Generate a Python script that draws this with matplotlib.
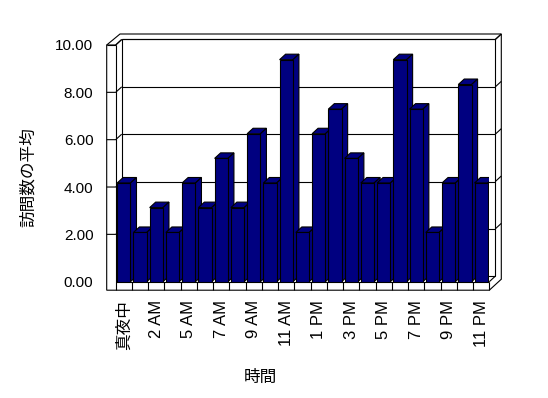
import matplotlib
matplotlib.use('Agg')
import matplotlib.pyplot as plt
from matplotlib.patches import Polygon

plt.rcParams['font.family'] = ['Liberation Sans', 'Noto Sans CJK JP']

# data
hours = ['真夜中', '1 AM', '2 AM', '3 AM', '5 AM', '6 AM', '7 AM', '8 AM',
         '9 AM', '10 AM', '11 AM', '正午', '1 PM', '2 PM', '3 PM', '4 PM',
         '5 PM', '6 PM', '7 PM', '8 PM', '9 PM', '10 PM', '11 PM']
visits = [4.17, 2.08, 3.13, 2.08, 4.17, 3.13, 5.21, 3.13, 6.25, 4.17, 9.38,
          2.08, 6.25, 7.29, 5.21, 4.17, 4.17, 9.38, 7.29, 2.08, 4.17, 8.33, 4.17]
y_ticks = [0, 2, 4, 6, 8, 10]
y_labels = ['0.00', '2.00', '4.00', '6.00', '8.00', '10.00']

NAVY = '#000080'
LW = 0.8

# figure geometry (pixels)
W, H = 548, 398
left_px, right_px = 115.7, 489.3
zero_px, top_px = 281.7, 45.0

fig = plt.figure(figsize=(W / 100, H / 100), dpi=100)
ax = fig.add_axes([left_px / W, 1 - zero_px / H,
                   (right_px - left_px) / W, (zero_px - top_px) / H])
n = len(hours)
xmin, xmax = -0.5, n - 0.5
ymax = y_ticks[-1]
ax.set_xlim(xmin, xmax)
ax.set_ylim(0, ymax)

cw = (right_px - left_px) / n      # pixels per category
vh = (zero_px - top_px) / ymax     # pixels per unit
ddx, ddy = 6 / cw, 5.5 / vh        # depth step in data units
wall = 9 / cw                      # left wall thickness
floor = 8.5 / vh                   # floor thickness


def line(xs, ys, z=1.5):
    ax.plot(xs, ys, color='black', lw=LW, zorder=z, clip_on=False,
            solid_capstyle='butt')


# outer box silhouette
outer = Polygon([(xmin - wall, -floor), (xmin - wall, ymax),
                 (xmin - wall + 2 * ddx + 1.3 / cw, ymax + 2 * ddy),
                 (xmax + 2 * ddx, ymax + 2 * ddy),
                 (xmax + 2 * ddx, -floor + 2 * ddy), (xmax, -floor)],
                closed=True, facecolor='white', edgecolor='black', lw=LW,
                zorder=1, clip_on=False)
ax.add_patch(outer)

# back wall face
back = Polygon([(xmin + ddx, ddy), (xmax + ddx, ddy),
                (xmax + ddx, ymax + ddy), (xmin + ddx, ymax + ddy)],
               closed=True, facecolor='white', edgecolor='black', lw=LW,
               zorder=1.2, clip_on=False)
ax.add_patch(back)
line([xmax + ddx, xmax + 2 * ddx], [ymax + ddy, ymax + 2 * ddy])

# left wall front face and top
line([xmin, xmin], [-floor, ymax])
line([xmin - wall, xmin], [ymax, ymax])
line([xmin, xmin + ddx], [ymax, ymax + ddy])

# gridlines: left wall, back wall, right side
for v in y_ticks[1:]:
    line([xmin - wall, xmin, xmin + ddx], [v, v, v + ddy])
    line([xmin + ddx, xmax + ddx], [v + ddy, v + ddy])
    line([xmax + ddx, xmax + 2 * ddx], [v + ddy, v + 2 * ddy])

# floor
line([xmin, xmax], [0, 0])
line([xmax, xmax], [-floor, 0])
line([xmax, xmax + ddx], [0, ddy])
for k in range(n - 1):
    line([k + 0.5, k + 0.5], [-floor, 0])

# bars with 3D top and side
bw = 0.82
for i, v in enumerate(visits):
    z = 3 + i * 0.01
    x0, x1 = i - bw / 2, i + bw / 2
    top = Polygon([(x0, v), (x1, v), (x1 + ddx, v + ddy), (x0 + ddx, v + ddy)],
                  closed=True, facecolor=NAVY, edgecolor='black', lw=LW, zorder=z)
    side = Polygon([(x1, 0), (x1 + ddx, ddy), (x1 + ddx, v + ddy), (x1, v)],
                   closed=True, facecolor=NAVY, edgecolor='black', lw=LW, zorder=z)
    ax.add_patch(top)
    ax.add_patch(side)
    ax.bar(i, v, width=bw, color=NAVY, edgecolor='black', lw=LW,
           zorder=z + 0.005)

# ticks and labels
ax.set_yticks(y_ticks, y_labels, fontsize=11)
ax.set_xticks(range(0, n, 2), hours[::2], rotation=90, fontsize=12)
ax.tick_params(axis='y', length=0, pad=16)
ax.tick_params(axis='x', length=0, pad=13)
for s in ax.spines.values():
    s.set_visible(False)
ax.patch.set_visible(False)

fig.text(28 / W, 1 - 177 / H, '訪問数の平均', rotation=90, fontsize=12,
         ha='center', va='center')
fig.text(260 / W, 1 - 377 / H, '時間', fontsize=12, ha='center', va='center')

fig.savefig('out.png', dpi=100)
